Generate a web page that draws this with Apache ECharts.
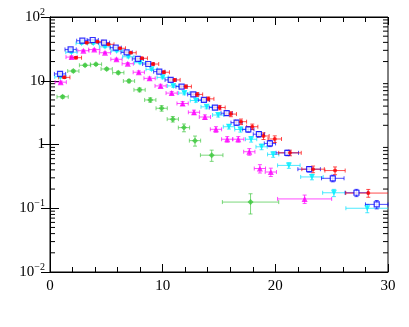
<!DOCTYPE html>
<html>
<head>
<meta charset="utf-8">
<script src="https://cdn.jsdelivr.net/npm/echarts@6/dist/echarts.min.js"></script>
<style>
  html, body { margin: 0; padding: 0; background: #fff; }
  #chart { width: 409px; height: 327px; }
</style>
</head>
<body>
<div id="chart"></div>
<script>
// 数据：x 位置、y 值、x 误差（半宽）、y 相对误差
const redX = [1.27, 2.3, 3.25, 4.2, 5.18, 6.2, 7.15, 8.15, 9.15, 10.1, 11.05, 12.05, 13.05, 14.05, 15.05, 16.05, 16.95, 17.95, 18.95, 19.95, 21.3, 23.35, 25.3, 28.25];
const redY = [11.3, 23, 39.5, 41, 37.3, 32.3, 27.5, 22.5, 18.3, 13.6, 10.3, 8.1, 6.1, 5.2, 3.8, 3.0, 2.28, 1.9, 1.36, 1.22, 0.74, 0.41, 0.39, 0.173];
const redXe = [0.5, 0.5, 0.5, 0.5, 0.5, 0.5, 0.5, 0.5, 0.5, 0.5, 0.5, 0.5, 0.5, 0.5, 0.5, 0.5, 0.5, 0.5, 0.5, 0.6, 1.0, 1.0, 0.9, 2.0];
const redYe = [0.04, 0.04, 0.03, 0.03, 0.03, 0.03, 0.03, 0.04, 0.04, 0.05, 0.05, 0.06, 0.07, 0.07, 0.08, 0.09, 0.1, 0.1, 0.12, 0.12, 0.1, 0.12, 0.14, 0.14];

const blueX = [0.89, 1.83, 2.87, 3.79, 4.79, 5.83, 6.8, 7.8, 8.72, 9.7, 10.71, 11.68, 12.72, 13.66, 14.64, 15.68, 16.56, 17.6, 18.54, 19.52, 21.06, 23.0, 25.1, 27.2, 29.0];
const blueY = [12.8, 31, 42.5, 43.6, 39.5, 33, 27.9, 22, 18.3, 13.9, 10.3, 8.1, 6.1, 5.0, 3.8, 3.1, 2.2, 1.73, 1.45, 1.04, 0.74, 0.41, 0.295, 0.175, 0.115];
const blueXe = [0.5, 0.5, 0.5, 0.5, 0.5, 0.5, 0.5, 0.5, 0.5, 0.5, 0.5, 0.5, 0.5, 0.5, 0.5, 0.5, 0.5, 0.5, 0.5, 0.5, 1.0, 1.0, 1.0, 1.0, 1.0];
const blueYe = [0.04, 0.03, 0.03, 0.03, 0.03, 0.03, 0.03, 0.04, 0.04, 0.05, 0.05, 0.05, 0.06, 0.06, 0.07, 0.08, 0.09, 0.1, 0.1, 0.11, 0.1, 0.1, 0.12, 0.13, 0.15];

const magX = [0.95, 1.92, 2.96, 3.93, 4.88, 5.9, 6.9, 7.88, 8.84, 9.82, 10.8, 11.77, 12.78, 13.75, 14.73, 15.73, 16.71, 17.69, 18.63, 19.6, 22.6];
const magY = [9.5, 23.5, 29.6, 30.8, 27.5, 21.7, 18.5, 13.6, 10.9, 8.3, 6.4, 4.4, 3.2, 2.7, 1.73, 1.21, 1.21, 0.77, 0.42, 0.37, 0.14];
const magXe = [0.5, 0.5, 0.5, 0.5, 0.5, 0.5, 0.5, 0.5, 0.5, 0.5, 0.5, 0.5, 0.5, 0.5, 0.5, 0.5, 0.5, 0.5, 0.5, 0.5, 2.4];
const magYe = [0.04, 0.04, 0.03, 0.03, 0.03, 0.04, 0.04, 0.05, 0.05, 0.06, 0.06, 0.07, 0.08, 0.08, 0.1, 0.1, 0.1, 0.12, 0.15, 0.15, 0.15];

const cyanX = [0.92, 1.9, 2.81, 3.84, 4.88, 5.92, 6.95, 7.99, 9.02, 10.0, 10.94, 11.92, 12.95, 13.9, 14.93, 15.88, 16.9, 17.85, 18.78, 19.81, 21.2, 23.25, 25.2, 28.16];
const cyanY = [11.5, 28, 38.6, 38.6, 34, 29.3, 23.8, 19.2, 15.1, 11.3, 8.3, 6.4, 4.9, 3.9, 2.9, 1.9, 1.72, 1.21, 0.92, 0.70, 0.47, 0.31, 0.175, 0.1];
const cyanXe = [0.5, 0.5, 0.5, 0.5, 0.5, 0.5, 0.5, 0.5, 0.5, 0.5, 0.5, 0.5, 0.5, 0.5, 0.5, 0.5, 0.5, 0.5, 0.5, 0.5, 1.0, 1.0, 1.0, 1.9];
const cyanYe = [0.04, 0.03, 0.03, 0.03, 0.03, 0.03, 0.04, 0.04, 0.04, 0.05, 0.05, 0.06, 0.06, 0.07, 0.07, 0.08, 0.09, 0.1, 0.1, 0.1, 0.1, 0.1, 0.13, 0.15];

const greenX = [1.12, 2.07, 3.11, 4.08, 5.03, 6.06, 7.01, 7.95, 8.9, 9.91, 10.9, 11.89, 12.87, 14.35, 17.8];
const greenY = [5.6, 14.2, 17.5, 18.1, 15.3, 13.4, 9.9, 7.2, 5.0, 3.7, 2.5, 1.84, 1.15, 0.68, 0.125];
const greenXe = [0.5, 0.5, 0.5, 0.5, 0.5, 0.5, 0.5, 0.5, 0.5, 0.5, 0.5, 0.5, 0.5, 1.0, 2.5];
const greenYe = [0.05, 0.04, 0.04, 0.04, 0.04, 0.05, 0.06, 0.07, 0.08, 0.1, 0.1, 0.14, 0.18, 0.2, 0.35];

// 坐标轴刻度
const xTicks = [0, 10, 20, 30];
const yLabels = { '0.01': ['10', '−2'], '0.1': ['10', '−1'], '1': ['1', ''], '10': ['10', ''], '100': ['10', '2'] };

// 对数轴的次刻度（2..9 × 10^k）
const minorY = [];
for (let k = -2; k < 2; k++) {
  for (let m = 2; m < 10; m++) minorY.push(m * Math.pow(10, k));
}

let chart = echarts.init(document.getElementById('chart'));

// 误差棒
function errSeries(xs, ys, xe, ye, color) {
  return {
    type: 'custom',
    silent: true,
    z: 2,
    data: xs.map((x, i) => [x, ys[i], xe[i], ye[i]]),
    renderItem: (params, api) => {
      const cs = params.coordSys;
      const x = api.value(0), y = api.value(1), dx = api.value(2), dy = y * api.value(3);
      const c = api.coord([x, y]);
      let l = api.coord([x - dx, y])[0], r = api.coord([x + dx, y])[0];
      const t = api.coord([x, y + dy])[1], b = api.coord([x, y - dy])[1];
      const right = cs.x + cs.width, left = cs.x;
      const style = { stroke: color, lineWidth: 1, opacity: 0.7 };
      const kids = [];
      const capL = l >= left, capR = r <= right;
      l = Math.max(l, left); r = Math.min(r, right);
      kids.push({ type: 'line', shape: { x1: l, y1: c[1], x2: r, y2: c[1] }, style });
      kids.push({ type: 'line', shape: { x1: c[0], y1: t, x2: c[0], y2: b }, style });
      if (capL) kids.push({ type: 'line', shape: { x1: l, y1: c[1] - 2, x2: l, y2: c[1] + 2 }, style });
      if (capR) kids.push({ type: 'line', shape: { x1: r, y1: c[1] - 2, x2: r, y2: c[1] + 2 }, style });
      kids.push({ type: 'line', shape: { x1: c[0] - 2, y1: t, x2: c[0] + 2, y2: t }, style });
      kids.push({ type: 'line', shape: { x1: c[0] - 2, y1: b, x2: c[0] + 2, y2: b }, style });
      return { type: 'group', children: kids };
    }
  };
}

function markSeries(xs, ys, symbol, size, color, hollow) {
  return {
    type: 'scatter',
    silent: true,
    z: 3,
    symbol: symbol,
    symbolSize: size,
    data: xs.map((x, i) => [x, ys[i]]),
    itemStyle: hollow
      ? { color: '#fff', borderColor: color, borderWidth: 1.2 }
      : { color: color }
  };
}

const downTri = 'path://M0,0 L10,0 L5,9 Z';

let option = {
  backgroundColor: '#fff',
  animation: false,
  grid: { left: 50, right: 21, top: 17, bottom: 55, show: true, borderColor: '#000', borderWidth: 1, backgroundColor: 'transparent' },
  xAxis: [
    {
      type: 'value', min: 0, max: 30, interval: 10,
      axisLine: { show: true, lineStyle: { color: '#000' } },
      axisTick: { inside: true, length: 8, lineStyle: { color: '#000' } },
      minorTick: { show: true, splitNumber: 5, length: 5, lineStyle: { color: '#000' } },
      splitLine: { show: false },
      axisLabel: {
        margin: 7, color: '#000', fontFamily: 'Liberation Serif', fontSize: 15,
        formatter: v => xTicks.includes(v) ? String(v) : ''
      }
    },
    {
      type: 'value', min: 0, max: 30, interval: 10, position: 'top',
      axisLine: { show: true, lineStyle: { color: '#000' } },
      axisTick: { inside: true, length: 8, lineStyle: { color: '#000' } },
      minorTick: { show: true, splitNumber: 5, length: 5, lineStyle: { color: '#000' } },
      splitLine: { show: false },
      axisLabel: { show: false }
    }
  ],
  yAxis: [
    {
      type: 'log', logBase: 10, min: 0.01, max: 100,
      axisLine: { show: true, lineStyle: { color: '#000' } },
      axisTick: { inside: true, length: 9, lineStyle: { color: '#000' } },
      splitLine: { show: false },
      axisLabel: {
        margin: 5, color: '#000', fontFamily: 'Liberation Serif', fontSize: 15,
        formatter: v => {
          const key = String(+v.toPrecision(3));
          const p = yLabels[key];
          if (!p) return '';
          return p[1] ? '{b|' + p[0] + '}{s|' + p[1] + '}' : '{b|' + p[0] + '}';
        },
        rich: {
          b: { fontFamily: 'Liberation Serif', fontSize: 15, color: '#000' },
          s: { fontFamily: 'Liberation Serif', fontSize: 10, color: '#000', padding: [0, 0, 9, 0] }
        }
      }
    },
    {
      type: 'log', logBase: 10, min: 0.01, max: 100, position: 'right',
      axisLine: { show: true, lineStyle: { color: '#000' } },
      axisTick: { inside: true, length: 9, lineStyle: { color: '#000' } },
      splitLine: { show: false },
      axisLabel: { show: false }
    }
  ],
  series: [
    // 次刻度（左右两侧）
    {
      type: 'custom',
      silent: true,
      z: 1,
      data: minorY.map(v => [0, v]),
      renderItem: (params, api) => {
        const cs = params.coordSys;
        const y = api.coord([0, api.value(1)])[1];
        const st = { stroke: '#000', lineWidth: 1 };
        return {
          type: 'group',
          children: [
            { type: 'line', shape: { x1: cs.x, y1: y, x2: cs.x + 5, y2: y }, style: st },
            { type: 'line', shape: { x1: cs.x + cs.width, y1: y, x2: cs.x + cs.width - 5, y2: y }, style: st }
          ]
        };
      }
    },
    errSeries(greenX, greenY, greenXe, greenYe, '#44c844'),
    errSeries(magX, magY, magXe, magYe, '#ff00ff'),
    errSeries(cyanX, cyanY, cyanXe, cyanYe, '#00e0ff'),
    errSeries(blueX, blueY, blueXe, blueYe, '#0000ff'),
    errSeries(redX, redY, redXe, redYe, '#ff0000'),
    markSeries(greenX, greenY, 'diamond', 6, '#3cc83c', false),
    markSeries(magX, magY, 'triangle', 6, '#ff00ff', false),
    markSeries(cyanX, cyanY, downTri, 6, '#00f0ff', false),
    markSeries(blueX, blueY, 'rect', 5, '#0000ff', true),
    markSeries(redX, redY, 'circle', 4, '#ff0000', false)
  ]
};

chart.setOption(option, true);
window.onresize = chart.resize;
</script>
</body>
</html>
